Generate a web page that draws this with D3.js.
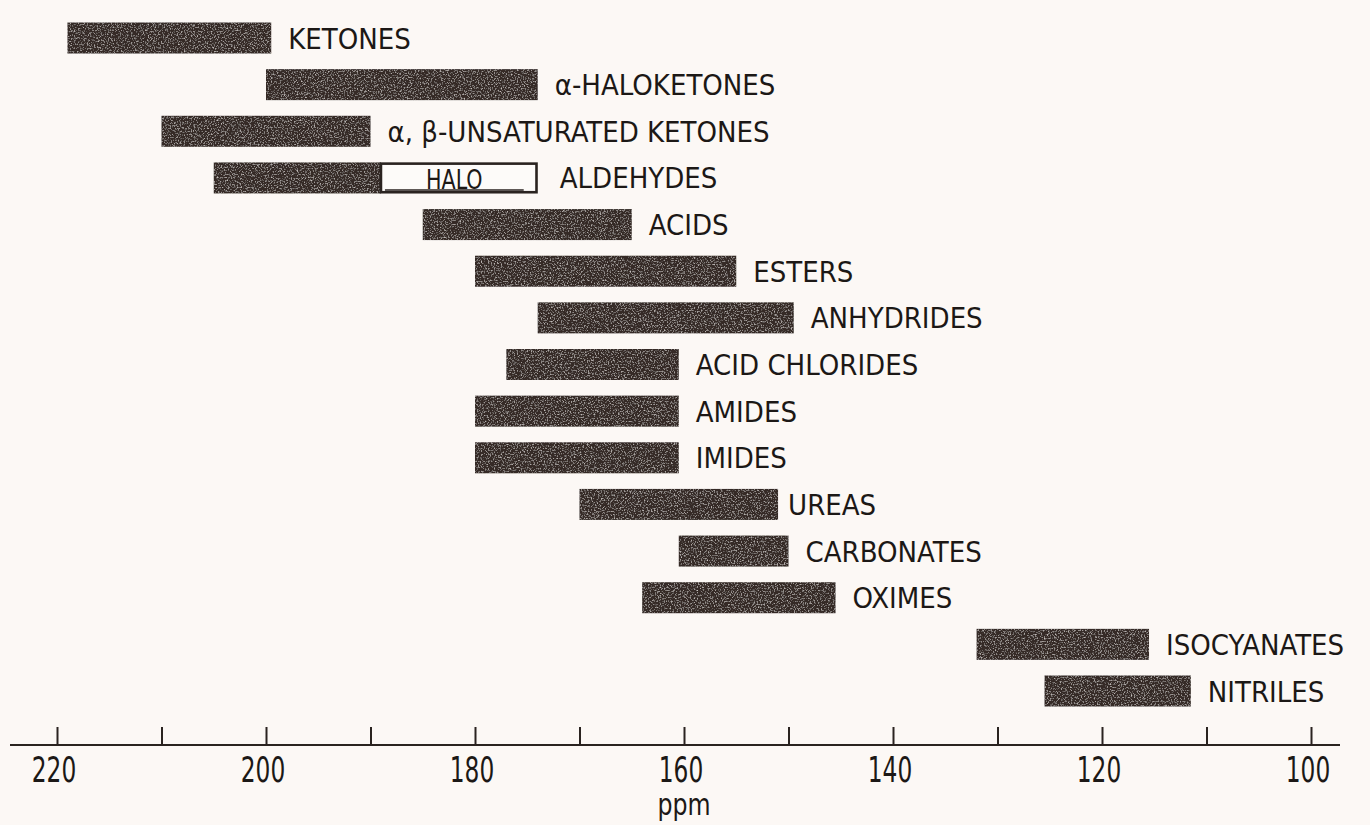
<!DOCTYPE html>
<html>
<head>
<meta charset="utf-8">
<script src="https://cdn.jsdelivr.net/npm/d3@7"></script>
<style>
  html, body { margin: 0; padding: 0; background: #fcf8f5; }
  svg { display: block; }
  text { font-family: "Liberation Sans Narrow", "Arial Narrow", "DejaVu Sans Condensed", sans-serif; fill: #1c1816; }
</style>
</head>
<body>
<svg id="chart" width="1370" height="825"></svg>
<script>
// Carbonyl-type and related carbon shift ranges (ppm)
const categories = [
  "KETONES", "α-HALOKETONES", "α, β-UNSATURATED KETONES", "ALDEHYDES",
  "ACIDS", "ESTERS", "ANHYDRIDES", "ACID CHLORIDES", "AMIDES", "IMIDES",
  "UREAS", "CARBONATES", "OXIMES", "ISOCYANATES", "NITRILES"
];
const rangeHigh = [219, 200, 210, 205, 185, 180, 174, 177, 180, 180, 170, 160.5, 164, 132, 125.5];
const rangeLow  = [199.5, 174, 190, 189, 165, 155, 149.5, 160.5, 160.5, 160.5, 151, 150, 145.5, 115.5, 111.5];

// Halo-aldehyde extension drawn as an open box
const haloCategory = "ALDEHYDES";
const haloHigh = 189;
const haloLow = 174;
const haloLabel = "HALO";

const tickValues = [220, 210, 200, 190, 180, 170, 160, 150, 140, 130, 120, 110, 100];
const tickLabels = [220, 200, 180, 160, 140, 120, 100];
const axisTitle = "ppm";

const svg = d3.select("#chart");
const W = 1370, H = 825;

const x = d3.scaleLinear().domain([220, 100]).range([57, 1311]);
const y = d3.scalePoint().domain(categories).range([38, 691]);
const barH = 31;
const axisY = 745;
const labelGap = 17;
const labelNudge = { "UREAS": -7 };

// paper background
svg.append("rect").attr("width", W).attr("height", H).attr("fill", "#fcf8f5");

// grainy ink texture for the bars
const defs = svg.append("defs");
const f = defs.append("filter").attr("id", "grain")
  .attr("x", 0).attr("y", 0).attr("width", "100%").attr("height", "100%");
f.append("feTurbulence").attr("type", "fractalNoise").attr("baseFrequency", 0.7)
  .attr("numOctaves", 2).attr("seed", 7).attr("result", "noise");
f.append("feColorMatrix").attr("in", "noise").attr("type", "matrix")
  .attr("values", "0 0 0 0 0.62  0 0 0 0 0.58  0 0 0 0 0.56  2.6 0 0 0 -1.35")
  .attr("result", "specks");
f.append("feComposite").attr("in", "specks").attr("in2", "SourceGraphic")
  .attr("operator", "in").attr("result", "sp");
const merge = f.append("feMerge");
merge.append("feMergeNode").attr("in", "SourceGraphic");
merge.append("feMergeNode").attr("in", "sp");

const rows = categories.map((c, i) => ({ name: c, hi: rangeHigh[i], lo: rangeLow[i] }));

// bars
svg.append("g").selectAll("rect").data(rows).join("rect")
  .attr("x", d => x(d.hi))
  .attr("y", d => y(d.name) - barH / 2)
  .attr("width", d => x(d.lo) - x(d.hi))
  .attr("height", barH)
  .attr("fill", "#342c28")
  .attr("filter", "url(#grain)");

// halo box
const hy = y(haloCategory);
svg.append("rect")
  .attr("x", x(haloHigh))
  .attr("y", hy - barH / 2 + 1.2)
  .attr("width", x(haloLow) - x(haloHigh) - 1.2)
  .attr("height", barH - 2.4)
  .attr("fill", "#fdfbf9")
  .attr("stroke", "#2a2320")
  .attr("stroke-width", 2.6);
svg.append("line")
  .attr("x1", x(haloHigh) + 4).attr("x2", x(haloLow) - 14)
  .attr("y1", hy + 12).attr("y2", hy + 12)
  .attr("stroke", "#2a2320").attr("stroke-width", 1.5);
svg.append("text")
  .attr("transform", `translate(${(x(haloHigh) + x(haloLow)) / 2 - 5},${hy + 11}) scale(0.85,1)`)
  .attr("text-anchor", "middle")
  .attr("font-size", 27)
  .text(haloLabel);

// category labels
const labelEnd = d => d.name === haloCategory ? Math.min(d.lo, haloLow) : d.lo;
svg.append("g").selectAll("text").data(rows).join("text")
  .attr("x", d => x(labelEnd(d)) + labelGap + (d.name === haloCategory ? 5 : 0) + (labelNudge[d.name] || 0))
  .attr("y", d => y(d.name) + 10.5)
  .attr("font-size", 29)
  .text(d => d.name);

// axis
const axis = d3.axisTop(x).tickValues(tickValues).tickSize(18)
  .tickFormat(d => tickLabels.includes(d) ? d : "");
const ag = svg.append("g").attr("transform", `translate(0,${axisY})`).call(axis);
ag.select(".domain").remove();
ag.selectAll(".tick line").attr("stroke", "#2a2320").attr("stroke-width", 2);
ag.selectAll(".tick text").remove();
ag.insert("line", ":first-child")
  .attr("x1", 10).attr("x2", 1340).attr("y1", 0).attr("y2", 0)
  .attr("stroke", "#2a2320").attr("stroke-width", 2);

// tall, narrow tick numerals
svg.append("g").selectAll("text").data(tickLabels).join("text")
  .attr("transform", d => `translate(${x(d) - 3},782) scale(0.72,1)`)
  .attr("text-anchor", "middle")
  .attr("font-size", 36)
  .text(d => d);

svg.append("text")
  .attr("transform", `translate(${x(160)},815) scale(0.85,1)`)
  .attr("text-anchor", "middle")
  .attr("font-size", 31)
  .text(axisTitle);
</script>
</body>
</html>
